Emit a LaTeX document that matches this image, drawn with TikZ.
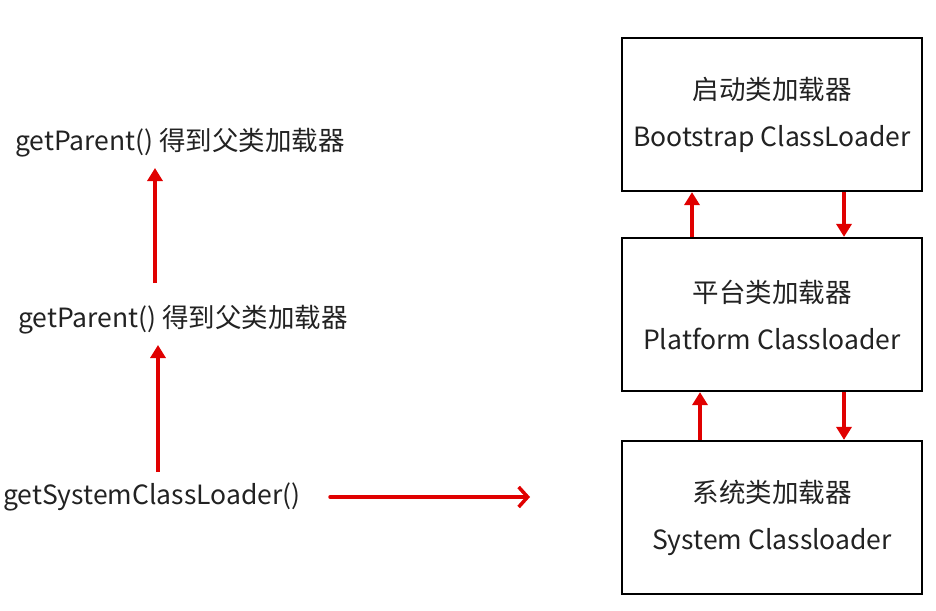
\documentclass[tikz,border=0pt]{standalone}
\usepackage{fontspec}
\setmainfont{Noto Sans CJK SC}
\usetikzlibrary{arrows.meta}
\definecolor{arrred}{HTML}{E00000}
\definecolor{txtgray}{HTML}{222222}
\tikzset{
  loaderbox/.style={draw=black, line width=2.2pt, minimum width=300pt, minimum height=153pt, inner sep=0pt, align=center, font=\fontsize{26.5}{47}\selectfont, text=txtgray},
  lbl/.style={font=\fontsize{26.5}{30}\selectfont, text=txtgray, inner sep=0pt},
  uparr/.style={draw=arrred, line width=3.5pt, -{Triangle[width=15pt,length=13pt]}},
  openarr/.style={draw=arrred, line width=3.5pt, line cap=round, -{Straight Barb[length=9pt,width=20pt,line width=3.5pt]}}
}
\begin{document}
\begin{tikzpicture}[x=1pt,y=-1pt]
\useasboundingbox (0,0) rectangle (936,610);
\node[loaderbox] (boot) at (772,114.5) {启动类加载器\\Bootstrap ClassLoader};
\node[loaderbox] (plat) at (772,314.5) {平台类加载器\\Platform Classloader};
\node[loaderbox] (sys) at (772,517.5) {系统类加载器\\System Classloader};
\draw[uparr] (plat.north -| 692,0) -- (boot.south -| 692,0);
\draw[uparr] (boot.south -| 844,0) -- (plat.north -| 844,0);
\draw[uparr] (sys.north -| 700,0) -- (plat.south -| 700,0);
\draw[uparr] (plat.south -| 844,0) -- (sys.north -| 844,0);
\node[lbl, anchor=west] (p1) at (15,143) {getParent() 得到父类加载器};
\node[lbl, anchor=west] (p2) at (18,320) {getParent() 得到父类加载器};
\node[lbl, anchor=west] (sc) at (3,497) {getSystemClassLoader()};
\coordinate (a1s) at (155,283);
\coordinate (a1e) at (155,168);
\coordinate (a2s) at (158,472);
\coordinate (a2e) at (158,345);
\coordinate (hs) at (330,497);
\coordinate (he) at (530,497);
\draw[uparr] (a1s) -- (a1e);
\draw[uparr] (a2s) -- (a2e);
\draw[openarr] (hs) -- (he);
\end{tikzpicture}
\end{document}
